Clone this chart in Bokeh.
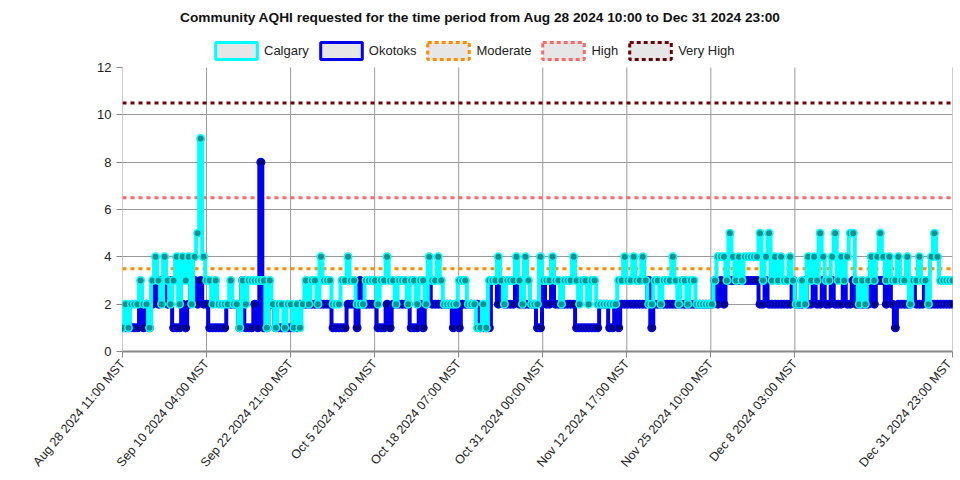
import numpy as np
import pandas as pd
from bokeh.plotting import figure
from bokeh.models import Range1d, FixedTicker, Legend, LegendItem, Label
from bokeh.embed import file_html
from bokeh.resources import INLINE

title_text = "Community AQHI requested for the time period from Aug 28 2024 10:00 to Dec 31 2024 23:00"
start_time = "2024-08-28 11:00"
end_time = "2024-12-31 23:00"

calgary = [
    1, 2, 1, 2, 2, 2, 3, 2, 2, 1, 3, 4, 3, 2, 4, 3, 2, 3, 4, 2, 4, 3, 4, 2, 4, 5, 9,
    4, 3, 3, 2, 3, 2, 2, 2, 2, 3, 2, 2, 1, 3, 2, 3, 3, 3, 3, 3, 3, 1, 3, 2, 1, 2, 2, 1, 2, 2,
    1, 2, 1, 2, 3, 2, 3, 3, 2, 4, 3,
    3, 3, 2, 2, 2, 3, 3, 4, 3, 3, 2, 2, 2, 3, 3, 3, 3, 2, 3, 3, 4, 3, 3, 2, 3, 3, 3, 2, 3, 3,
    2, 3, 3, 2, 4, 3, 3, 4, 3, 2, 2, 2, 2, 2,
    3, 3, 3, 2, 2, 2, 1, 1, 2, 1, 3, 3, 3, 4, 3, 2, 3, 3, 3, 4, 3, 2, 4, 3, 2, 2, 2, 4, 3, 3,
    3, 4, 3, 3, 2, 3, 3, 3, 4, 3, 2, 3, 3, 2, 3, 3, 2, 2, 2, 2, 2, 2, 2, 3, 3,
    4, 3, 3, 4, 3, 3, 4, 3, 2, 2, 3, 3, 2, 3, 3, 3, 4, 3, 2, 3, 3, 2, 3, 3, 2, 2, 2, 2, 2, 2,
    3, 4, 4, 4, 3, 5, 4, 3, 4, 3, 4, 4, 4, 4, 4, 5, 3, 4, 5, 3, 4, 3, 4, 3,
    3, 4, 3, 2, 2, 3, 2, 4, 3, 4, 3, 5, 4, 3, 3, 4, 5, 3, 4, 3, 4, 5, 5, 3, 2, 3, 2, 3, 4, 3,
    4, 5, 4, 3, 4, 3, 3, 4, 3, 3, 4, 2, 3, 3, 4, 3, 3, 2, 4, 5, 4, 3, 3, 3, 3, 3,
]
okotoks = [
    1, 1, 1, 1, 1, 1, 2, 1, 2, 1, 2, 3, 2, 3, 3, 2, 3, 1, 1, 1, 2, 1, 2, 3, 3, 2, 3,
    2, 2, 1, 1, 1, 1, 1, 1, 2, 2, 2, 2, 1, 3, 1, 1, 1, 2, 1, 8, 1, 1, 2, 2, 1, 1, 1, 1, 1, 1,
    1, 1, 2, 2, 2, 2, 2, 2, 2, 2, 2,
    2, 2, 1, 1, 1, 1, 1, 2, 2, 2, 1, 3, 2, 2, 2, 2, 2, 1, 1, 1, 2, 1, 2, 2, 2, 2, 2, 2, 1, 1,
    1, 2, 1, 2, 3, 2, 2, 2, 2, 2, 2, 2, 1, 2,
    1, 2, 2, 2, 2, 2, 2, 1, 1, 1, 1, 3, 3, 2, 3, 2, 2, 2, 2, 3, 2, 2, 2, 2, 2, 2, 1, 1, 3, 2,
    2, 3, 2, 2, 2, 2, 2, 2, 2, 1, 1, 1, 1, 1, 1, 1, 1, 2, 2, 2, 1, 1, 2, 1, 2,
    2, 2, 2, 2, 2, 2, 2, 2, 3, 1, 2, 2, 2, 2, 2, 2, 2, 2, 2, 2, 2, 2, 2, 2, 2, 2, 2, 2, 2, 2,
    3, 2, 3, 2, 3, 3, 3, 3, 3, 3, 3, 3, 3, 3, 3, 2, 2, 3, 2, 2, 2, 2, 2, 2,
    2, 2, 3, 2, 2, 2, 3, 2, 2, 3, 2, 2, 3, 2, 2, 3, 2, 2, 2, 3, 2, 2, 3, 2, 2, 2, 2, 2, 3, 2,
    3, 3, 3, 2, 3, 2, 1, 2, 2, 2, 2, 2, 3, 2, 2, 2, 3, 2, 2, 2, 2, 2, 2, 2, 2, 2,
]
tick_labels = [
    "Aug 28 2024 11:00 MST", "Sep 10 2024 04:00 MST", "Sep 22 2024 21:00 MST",
    "Oct 5 2024 14:00 MST", "Oct 18 2024 07:00 MST", "Oct 31 2024 00:00 MST",
    "Nov 12 2024 17:00 MST", "Nov 25 2024 10:00 MST", "Dec 8 2024 03:00 MST",
    "Dec 31 2024 23:00 MST",
]
y_ticks = [0, 2, 4, 6, 8, 10, 12]
series_names = ["Calgary", "Okotoks"]
threshold_names = ["Moderate", "High", "Very High"]
threshold_values = [3.5, 6.5, 10.5]

series_colors = ["#00ffff", "#0000ee"]
marker_fills = ["#168f8f", "#00007a"]
threshold_colors = ["#ff8c00", "#ff6666", "#6b0000"]

t0 = pd.Timestamp(start_time)
times = pd.date_range(start_time, end_time, periods=len(calgary))
hours = [float(h) for h in ((times - t0) / pd.Timedelta(hours=1))]
total_hours = float((pd.Timestamp(end_time) - t0) / pd.Timedelta(hours=1))
tick_pos = [
    float((pd.to_datetime(lbl[:-4], format="%b %d %Y %H:%M") - t0) / pd.Timedelta(hours=1))
    for lbl in tick_labels
]

# layout: frame spans the full canvas height above the axis; the band above
# AQHI 12 holds the title and the legend
FRAME_H = 351          # px from canvas top to the x axis
PX_PER_UNIT = 23.667   # px per AQHI unit
y_top = y_ticks[-1] + (FRAME_H - y_ticks[-1] * PX_PER_UNIT) / PX_PER_UNIT

p = figure(width=954, height=478, output_backend="svg", toolbar_location=None,
           x_range=Range1d(0, total_hours), y_range=Range1d(0, y_top),
           min_border_left=122, min_border_right=2, min_border_bottom=478 - FRAME_H,
           min_border_top=0)
p.outline_line_color = None

# axes
p.xaxis.ticker = FixedTicker(ticks=tick_pos)
p.xaxis.major_label_overrides = {t: lbl for t, lbl in zip(tick_pos, tick_labels)}
p.xaxis.major_label_orientation = 0.87
p.yaxis.ticker = FixedTicker(ticks=y_ticks)
for ax in (p.xaxis, p.yaxis):
    ax.major_label_text_font = "Liberation Sans"
    ax.major_label_text_color = "#222222"
    ax.axis_line_color = "#888888"
    ax.major_tick_line_color = "#888888"
    ax.minor_tick_line_color = None
    ax.major_tick_out = 6
    ax.major_tick_in = 0
p.xaxis.major_label_text_font_size = "12.5px"
p.xaxis.major_label_standoff = 4
p.yaxis.major_label_text_font_size = "13px"
p.yaxis.axis_line_color = None
p.xaxis.axis_line_width = 2
p.xgrid.visible = False
p.ygrid.ticker = FixedTicker(ticks=y_ticks[:-1])
p.ygrid.grid_line_color = "#999999"
p.ygrid.grid_line_width = 1

# vertical grid lines from 0 to 12
p.segment(x0=tick_pos, y0=y_ticks[0], x1=tick_pos, y1=y_ticks[-1],
          line_color="#999999", line_width=1)

# thresholds (drawn below the series)
for val, col in zip(threshold_values, threshold_colors):
    p.line([0, total_hours], [val, val], line_color=col, line_width=3, line_dash="4 4")

# series (Okotoks underneath, Calgary on top)
for vals, col, fill in [(okotoks, series_colors[1], marker_fills[1]),
                        (calgary, series_colors[0], marker_fills[0])]:
    p.step(hours, vals, line_color=col, line_width=4, mode="center")
    p.scatter(hours, vals, size=7.5, line_color=col, line_width=1.5, fill_color=fill)

# title
p.add_layout(Label(x=480 - 122, y=FRAME_H - 17, x_units="screen", y_units="screen",
                   text=title_text, text_align="center", text_baseline="middle",
                   text_font="Liberation Sans", text_font_size="13.7px",
                   text_font_style="bold", text_color="#111111"))

# legend boxes
legend_items = []
styles = [(series_colors[0], "solid"), (series_colors[1], "solid")] + \
         [(c, "4 3") for c in threshold_colors]
for name, (col, dash) in zip(series_names + threshold_names, styles):
    r = p.quad(left=[0], right=[0], top=[0], bottom=[0], fill_color="#e6e6e6",
               line_color=col, line_width=3, line_dash=dash)
    legend_items.append(LegendItem(label=name, renderers=[r]))

legend = Legend(items=legend_items, orientation="horizontal", location=(88, FRAME_H - 61),
                glyph_width=52, glyph_height=21, label_standoff=2, spacing=6,
                padding=2, margin=0, border_line_color=None, background_fill_alpha=0,
                label_text_font="Liberation Sans", label_text_font_size="13px",
                label_text_color="#222222")
p.add_layout(legend, "center")

open("out.html", "w").write(file_html(p, INLINE))
